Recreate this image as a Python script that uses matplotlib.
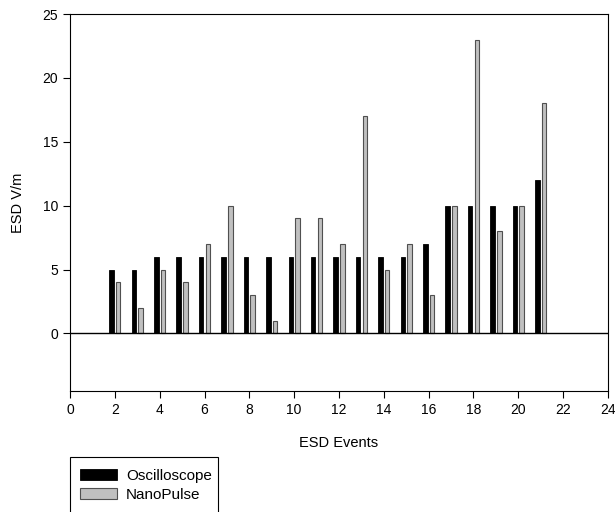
import matplotlib
matplotlib.use("Agg")
import matplotlib.pyplot as plt
from matplotlib.patches import Rectangle
import numpy as np

plt.rcParams['font.family'] = ['Liberation Sans', 'DejaVu Sans']
plt.rcParams['font.size'] = 10

events = [2, 3, 4, 5, 6, 7, 8, 9, 10, 11, 12, 13, 14, 15, 16, 17, 18, 19, 20, 21]
oscilloscope = [5, 5, 6, 6, 6, 6, 6, 6, 6, 6, 6, 6, 6, 6, 7, 10, 10, 10, 10, 12]
nanopulse = [4, 2, 5, 4, 7, 10, 3, 1, 9, 9, 7, 17, 5, 7, 3, 10, 23, 8, 10, 18]
xticks = list(range(0, 25, 2))
yticks = [0, 5, 10, 15, 20, 25]

W, H = 615, 512
fig = plt.figure(figsize=(W / 100, H / 100), dpi=100)
ax = fig.add_axes([70 / W, 1 - 391 / H, (608 - 70) / W, (391 - 14) / H])

x = np.array(events, dtype=float)
ax.bar(x - 0.15, oscilloscope, width=0.2, color='black', edgecolor='black',
       linewidth=0.6, label='Oscilloscope', zorder=2)
ax.bar(x + 0.15, nanopulse, width=0.2, color='#c0c0c0', edgecolor='#505050',
       linewidth=0.8, label='NanoPulse', zorder=2)

ax.axhline(0, color='black', linewidth=1.0, zorder=3)
ax.set_xlim(0, 24)
ax.set_ylim(-4.5, 25)
ax.set_xticks(xticks)
ax.set_yticks(yticks)
ax.tick_params(direction='out', length=5, width=0.8, labelsize=10)
for s in ax.spines.values():
    s.set_linewidth(0.8)
ax.set_xlabel('ESD Events', fontsize=10.5, labelpad=14)
ax.set_ylabel('ESD V/m', fontsize=10.5, labelpad=13)

# legend frame (extends past figure bottom as in the reference)
fig.patches.append(Rectangle((70 / W, -0.02), (218 - 70) / W, (1 - 457 / H) + 0.02,
                             transform=fig.transFigure, fill=False,
                             edgecolor='black', linewidth=0.8))
handles, labels = ax.get_legend_handles_labels()
fig.legend(handles, labels, loc='upper left',
           bbox_to_anchor=(80 / W, 1 - 469 / H), frameon=False,
           handlelength=2.4, handleheight=0.75, handletextpad=0.6,
           labelspacing=0.3, borderaxespad=0, borderpad=0, fontsize=11)

fig.savefig('out.png', dpi=100)
